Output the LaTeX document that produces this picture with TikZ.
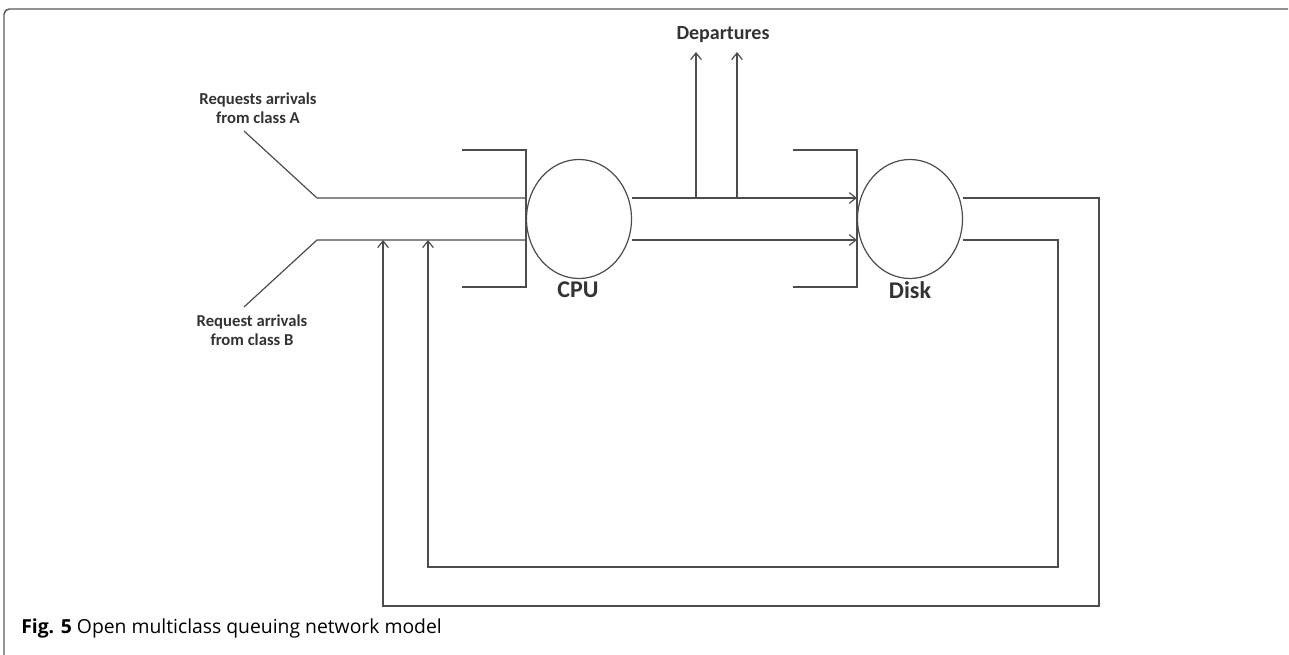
\documentclass[tikz,border=0pt]{standalone}
\usepackage{fontspec}
\setmainfont{Carlito}
\newfontfamily\capfont{Open Sans}
\usepackage{tikz}
\usetikzlibrary{shapes.geometric,arrows.meta}

\begin{document}
\begin{tikzpicture}[x=0.75pt, y=-0.75pt,
    wire/.style={draw=black!70, line width=0.9pt},
    station/.style={wire, ellipse, inner sep=0pt, minimum width=78.75pt, minimum height=89.25pt},
    lbl/.style={text=black!80, font=\bfseries\fontsize{12.5}{14.5}\selectfont, align=center},
    >={Straight Barb[length=5pt,width=8pt]}]
    \useasboundingbox (0,0) rectangle (1289,655);

    % frame of the figure
    \draw[draw=black!65, line width=1.1pt, rounded corners=4pt] (4,655) -- (4,9) -- (1288,9);

    \node[station] at (579,219) (cpu) {};
    \node[station] at (910,219) (disk) {};
    \node[lbl, font=\bfseries\fontsize{18}{18}\selectfont] at (578,290) (cpulbl) {CPU};
    \node[lbl, font=\bfseries\fontsize{18}{18}\selectfont] at (910,290) (disklbl) {Disk};
    \node[lbl] at (258,108) (lblA) {Requests arrivals\\from class A};
    \node[lbl] at (252,330) (lblB) {Request arrivals\\from class B};
    \node[lbl, font=\bfseries\fontsize{15}{15}\selectfont] at (723,35) (dep) {Departures};
    \node[anchor=west, inner sep=0pt, font=\capfont\fontsize{14.5}{16}\selectfont] at (21,628) (cap)
        {\textbf{Fig. 5} Open multiclass queuing network model};

    \coordinate (a1) at (244,131);
    \coordinate (a2) at (317,198);
    \coordinate (b1) at (244,307);
    \coordinate (b2) at (317,240);
    \coordinate (d1) at (696,198);
    \coordinate (d2) at (737,198);
    \coordinate (outR) at (1099,606);
    \coordinate (outL) at (383,606);
    \coordinate (inR) at (1058,567);
    \coordinate (inL) at (428,567);

    % queues
    \draw[wire] (462,150) -- (526,150) -- (526,287) -- (462,287);
    \draw[wire] (793,150) -- (857,150) -- (857,287) -- (793,287);

    \draw[wire] (a1) -- (a2) -- (cpu.west |- a2);
    \draw[wire] (b1) -- (b2) -- (cpu.west |- b2);
    \draw[wire,->] (cpu.east |- a2) -- (disk.west |- a2);
    \draw[wire,->] (cpu.east |- b2) -- (disk.west |- b2);
    \draw[wire,->] (d1) -- (696,52);
    \draw[wire,->] (d2) -- (737,52);
    \draw[wire,->] (disk.east |- a2) -| (outR) -- (outL) -- (outL |- b2);
    \draw[wire,->] (disk.east |- b2) -| (inR) -- (inL) -- (inL |- b2);
\end{tikzpicture}
\end{document}
